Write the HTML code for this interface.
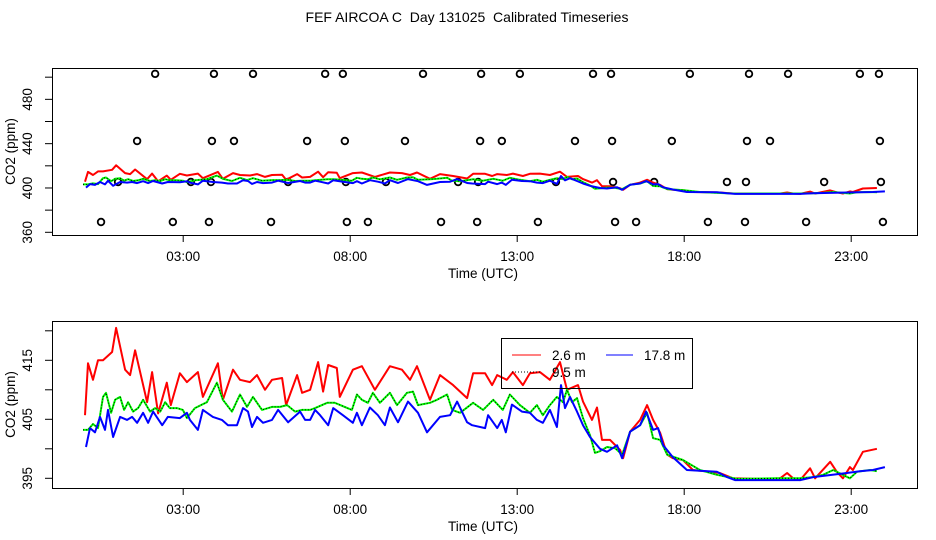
<!DOCTYPE html>
<html><head><meta charset="utf-8">
<style>
html,body{margin:0;padding:0;background:#fff;}
svg{display:block;font-family:"Liberation Sans",sans-serif;}
</style></head>
<body>
<svg id="chart" width="936" height="540" viewBox="0 0 936 540">
<text x="467" y="22" font-size="14" text-anchor="middle" xml:space="preserve">FEF AIRCOA C  Day 131025  Calibrated Timeseries</text>
<g id="top"></g>
<g id="bot"></g>
<g>
<rect x="501.5" y="338.5" width="191" height="50" fill="none" stroke="#000" stroke-width="1"/>
<g><line x1="512" y1="355" x2="541" y2="355" stroke="#f00" stroke-width="1"/><text x="552" y="360" font-size="13.5">2.6 m</text></g>
<g><line x1="606" y1="355" x2="633" y2="355" stroke="#00f" stroke-width="1"/><text x="644" y="360" font-size="13.5">17.8 m</text></g>
<g><line x1="512" y1="372" x2="541" y2="372" stroke="#000" stroke-width="1" stroke-dasharray="1,2"/><text x="552" y="377" font-size="13.5">9.5 m</text></g>
</g>
</svg>
<script>
const xTickHours=[3,8,13,18,23];
const xTickLabels=["03:00","08:00","13:00","18:00","23:00"];
const topYTicks=[360,380,400,420,440,460,480,500];
const topYLabels=[360,400,440,480];
const botYTicks=[395,400,405,410,415,420];
const botYLabels=[395,405,415];

const redHours=[0.06,0.15,0.30,0.45,0.60,0.87,0.99,1.26,1.41,1.56,1.92,2.07,2.25,2.51,2.63,2.90,3.11,3.44,3.59,4.04,4.19,4.49,4.70,5.00,5.21,5.45,5.66,5.96,6.08,6.41,6.56,6.80,7.04,7.19,7.34,7.60,7.69,8.08,8.35,8.74,9.19,9.55,9.79,10.00,10.39,10.69,11.08,11.50,11.68,12.04,12.25,12.40,12.69,12.87,13.17,13.38,13.68,13.98,14.28,14.49,14.82,14.97,15.24,15.39,15.54,15.78,16.08,16.17,16.38,16.68,16.89,17.07,17.28,17.49,17.66,17.96,18.26,18.77,19.07,19.46,20.27,20.87,21.08,21.26,21.47,21.77,21.92,22.37,22.57,22.75,22.96,23.05,23.35,23.77];
const redVals=[405.7,414.5,411.7,415,415,416.4,420.5,413.4,412.5,416.7,407.9,413,406,411.2,407.4,412.8,411.3,413,408.8,414.5,408.3,413.4,411.7,411.3,412.5,410,411.7,412,407.4,412.5,409.5,410,414.7,409.7,414.2,413.7,408.8,413.4,414,410,414,413.4,411.7,414,408.3,412.5,410.8,408.6,412.8,412.8,410.8,412.5,411.7,413,410.8,412.8,413,411.7,414.7,410,410.8,408,404.9,407,401.5,401.5,399.8,398.4,402.9,404.9,407.4,404.9,402.7,399,398.4,398.1,396.4,396.1,395.9,395,394.9,395,395.9,395,394.7,396.7,395,397.8,396.1,395,396.9,396.4,399.5,400];
const blueHours=[0.09,0.21,0.36,0.51,0.66,0.75,0.90,1.11,1.32,1.47,1.62,1.80,1.95,2.10,2.37,2.54,2.90,3.11,3.20,3.44,3.59,3.89,4.16,4.34,4.61,4.79,4.94,5.06,5.21,5.39,5.66,5.84,6.14,6.50,6.65,6.80,6.95,7.10,7.34,7.49,7.78,8.08,8.20,8.35,8.59,8.83,9.04,9.19,9.43,9.73,10.03,10.30,10.69,10.99,11.20,11.50,11.65,12.04,12.13,12.40,12.54,12.66,12.84,13.14,13.38,13.59,13.77,13.98,14.19,14.31,14.43,14.58,14.79,14.97,15.18,15.48,15.69,15.99,16.14,16.38,16.68,16.86,17.07,17.22,17.37,17.66,18.08,18.98,19.28,19.52,20.27,21.47,21.86,22.87,23.26,23.65,24.01];
const blueVals=[400.3,403.5,402.8,405.4,403.2,406.6,402,405.4,404.9,405.4,404.4,406.1,404.4,406.3,404,405.4,405.2,406.1,404.9,403.2,406.6,405.4,404.9,404,404,406.9,406.3,403.7,405.4,404.4,404.9,406.6,404.5,406.3,404.9,404.9,406.6,405.7,404,406.9,405.7,404.4,406.1,404,407,405.7,404,407,404.5,408,406.1,402.8,405.4,405.7,408,404.5,404,403.5,405.7,403.5,404.9,402.8,407.5,406.3,406.1,404.9,404.4,406.6,403.7,410.8,406.9,408.8,406.3,404,402,400,399.5,400.6,398.4,402.9,404,406.3,403.2,403.5,400.6,398.6,396.4,396.1,395.2,394.7,394.7,394.7,395.2,395.9,396.2,396.4,396.9];
const greenHours=[0.00,0.15,0.30,0.45,0.60,0.69,0.84,0.96,1.11,1.23,1.35,1.50,1.65,1.80,2.01,2.16,2.31,2.46,2.60,2.81,2.99,3.11,3.35,3.71,4.01,4.19,4.46,4.70,4.91,5.09,5.36,5.66,5.90,6.11,6.35,6.56,6.80,6.95,7.31,7.54,8.05,8.20,8.35,8.53,8.68,8.89,9.19,9.40,9.70,9.88,10.03,10.39,10.60,10.90,11.05,11.29,11.68,11.98,12.28,12.57,12.78,13.08,13.38,13.59,13.77,13.98,14.19,14.37,14.49,14.64,14.79,14.97,15.18,15.33,15.48,15.69,15.93,16.14,16.38,16.68,16.89,17.07,17.28,17.49,17.96,18.47,18.98,19.58,20.78,21.47,21.86,22.16,22.46,22.75,22.96,23.17,23.56,23.77];
const greenVals=[403.2,403.2,404.2,403.5,408.8,409.5,406.1,408.3,408.8,406.6,407.9,406.3,406.9,408.3,406.3,406.9,406.3,407.9,406.9,406.9,406.6,405.2,406.9,407.9,411.2,408.3,406.3,409.2,407.1,408.8,406.6,407.1,407.1,407.4,406.3,406.6,406.6,406.9,407.8,407.8,406.6,409.2,408.3,407.8,409.5,407.8,409.5,407.4,409.5,409.7,407.4,407.8,408.3,409.2,406.6,406.1,407.8,406.6,408.3,406.6,409.2,407.4,406.1,407.4,405.7,407.4,408.8,407.9,410,407.9,408.6,405.2,402.3,399.3,399.6,400.3,400.1,399,402.9,404,406.1,401.8,401.5,399,398.1,396.4,395.6,394.9,395,395,395.2,395.6,396.4,395.6,395,396.1,396.4,396.2];

const circleHours=[2.16,3.92,5.09,7.25,7.78,10.18,11.92,13.08,15.27,15.81,18.17,19.94,21.11,23.26,23.83,
1.62,3.86,4.52,6.71,7.84,9.64,11.89,12.54,14.73,15.84,17.63,19.88,20.57,23.86,
1.05,3.23,3.83,6.14,7.87,9.07,11.23,11.83,14.16,15.87,17.10,19.28,19.85,22.19,23.89,
0.54,2.69,3.77,5.63,7.90,8.53,10.72,11.80,13.62,15.93,16.56,18.71,19.82,21.65,23.95];
const circleVals=[503,503,503,503,503,503,503,503,503,503,503,503,503,503,503,
442.4,442.4,442.4,442.4,442.4,442.4,442.4,442.4,442.4,442.4,442.4,442.4,442.4,442.4,
405.4,405.4,405.4,405.4,405.4,405.4,405.4,405.4,405.4,405.4,405.4,405.4,405.4,405.4,405.4,
369.3,369.3,369.3,369.3,369.3,369.3,369.3,369.3,369.3,369.3,369.3,369.3,369.3,369.3,369.3];

const NS="http://www.w3.org/2000/svg";
function mk(tag,attrs,parent){const e=document.createElementNS(NS,tag);for(const k in attrs)e.setAttribute(k,attrs[k]);parent.appendChild(e);return e;}
const xs=h=>83+33.4*h;

function panel(g,box,ys,yTicks,yLabels,prefix,withCircles){
  const r=mk('rect',{x:box.x+0.5,y:box.y+0.5,width:box.w,height:box.h,fill:'none',stroke:'#000','stroke-width':1},g);
  
  
  const xb=box.y+box.h;
  xTickHours.forEach((h,i)=>{
    const t=mk('line',{x1:xs(h),x2:xs(h),y1:xb,y2:xb+7,stroke:'#000'},g);
    
    
    const tl=mk('text',{x:xs(h),y:xb+26,'font-size':13.5,'text-anchor':'middle'},g);
    tl.textContent=xTickLabels[i];
    
    
  });
  const xt=mk('text',{x:483,y:xb+43,'font-size':13.5,'text-anchor':'middle'},g);
  xt.textContent='Time (UTC)';
  
  
  yTicks.forEach(v=>{
    const t=mk('line',{x1:box.x-7,x2:box.x,y1:ys(v),y2:ys(v),stroke:'#000'},g);
    
    
  });
  yLabels.forEach(v=>{
    const tl=mk('text',{x:0,y:0,'font-size':13.5,'text-anchor':'middle',transform:`translate(32,${ys(v)}) rotate(-90)`},g);
    tl.textContent=v;
    
    
  });
  const yt=mk('text',{x:0,y:0,'font-size':13.5,'text-anchor':'middle',transform:`translate(15,${box.y+box.h/2}) rotate(-90)`},g);
  yt.textContent='CO2 (ppm)';
  
  
  if(withCircles){
    circleHours.forEach((h,i)=>{
      const c=mk('circle',{cx:xs(h),cy:ys(circleVals[i]),r:3.3,fill:'none',stroke:'#000','stroke-width':1.8},g);
      
      
    });
  }
  const line=(hs,vs,color,name,extra)=>{
    const d=hs.map((h,i)=>(i?'L':'M')+xs(h).toFixed(1)+','+ys(vs[i]).toFixed(1)).join('');
    const p=mk('path',Object.assign({d:d,fill:'none',stroke:color,'stroke-width':2,'stroke-linejoin':'round'},extra||{}),g);
    
    
  };
  line(redHours,redVals,'#f00',prefix+'-series-2-6m');
  line(greenHours,greenVals,'#00ff00',prefix+'-series-green');
  line(greenHours,greenVals,'#000',prefix+'-series-9-5m',{'stroke-width':1,'stroke-dasharray':'1,2'});
  line(blueHours,blueVals,'#00f',prefix+'-series-17-8m');
}
panel(document.getElementById('top'),{x:52,y:68,w:865,h:167},v=>232.3-(v-360)*1.108,topYTicks,topYLabels,'top',true);
panel(document.getElementById('bot'),{x:52,y:321,w:865,h:167},v=>478.3-(v-395)*5.9,botYTicks,botYLabels,'bottom',false);
</script>
</body></html>
